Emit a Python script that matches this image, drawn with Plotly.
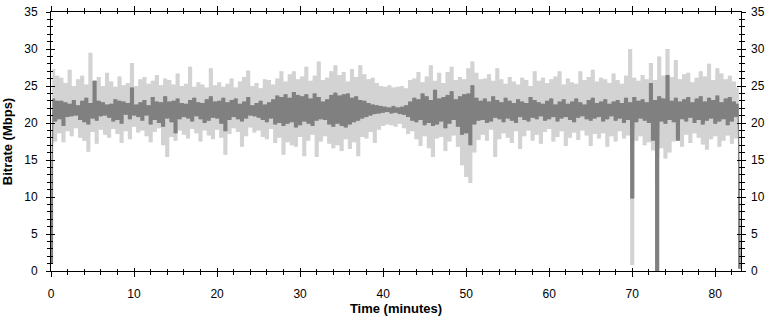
import plotly.graph_objects as go

# Sampling interval of the bitrate samples (minutes); samples alternate trough / peak
SAMPLE_MIN = 0.25

# Per-sample bitrate (Mbps) - light grey series (instantaneous bitrate)
light_mbps = [
    5.5, 27.3, 17.5, 26.4,  18.6, 26.1, 17.4, 25.4,  18.9, 27.2, 18.2, 25.0,  19.3, 25.9, 18.0, 26.4,
    17.6, 25.2, 16.1, 29.5,  18.8, 25.7, 17.2, 26.2,  19.1, 25.0, 18.4, 26.8,  18.0, 25.6, 19.2, 24.9,
    18.5, 26.3, 17.3, 25.1,  18.9, 25.4, 17.8, 28.1,  19.5, 25.0, 18.7, 25.9,  19.0, 26.2, 18.2, 25.3,
    17.4, 25.7, 18.8, 26.5,  19.3, 25.1, 17.0, 26.0,  15.4, 25.8, 18.1, 25.2,  17.6, 26.7, 19.0, 25.0,
    18.4, 25.3, 17.9, 27.6,  19.2, 24.9, 18.6, 25.5,  17.5, 25.2, 19.0, 24.8,  18.3, 27.4, 17.8, 25.1,
    19.1, 25.5, 18.0, 24.9,  15.7, 25.3, 18.5, 26.0,  19.3, 24.8, 18.8, 25.6,  16.8, 26.2, 18.2, 27.1,
    19.4, 25.0, 18.7, 25.4,  19.0, 24.7, 18.1, 25.9,  17.8, 25.8, 19.2, 25.2,  17.3, 26.0, 18.0, 27.0,
    15.7, 25.6, 17.4, 26.6,  17.0, 27.0, 16.8, 25.9,  18.1, 26.3, 15.5, 27.6,  17.6, 25.7, 18.4, 26.4,
    15.4, 28.3, 17.5, 25.8,  18.2, 26.1, 17.2, 27.0,  16.6, 27.8, 17.0, 26.5,  16.2, 26.9, 17.8, 25.6,
    16.5, 27.3, 17.4, 26.2,  15.5, 27.8, 18.1, 26.6,  17.9, 25.9, 18.8, 26.1,  17.3, 25.4, 19.1, 25.0,
    19.6, 24.9, 19.8, 25.1,  19.7, 24.8, 19.5, 24.9,  19.9, 25.0, 19.3, 24.7,  18.5, 25.8, 18.9, 26.0,
    17.8, 26.9, 16.9, 25.5,  18.2, 26.3, 16.6, 27.8,  15.4, 25.7, 17.9, 26.8,  18.1, 25.4, 16.2, 26.9,
    17.5, 27.6, 18.3, 25.8,  16.8, 26.2, 14.3, 25.9,  12.7, 27.4, 11.9, 28.3,  16.0, 26.8, 17.7, 25.9,
    18.4, 26.0, 17.6, 26.6,  19.1, 25.7, 15.4, 27.4,  17.8, 25.9, 18.6, 25.3,  18.0, 26.2, 17.3, 25.6,
    18.9, 25.2, 16.5, 26.1,  18.2, 25.8, 19.0, 25.0,  17.6, 27.0, 18.4, 25.7,  17.2, 26.1, 18.8, 25.4,
    19.2, 25.9, 17.5, 26.3,  18.1, 27.0, 18.9, 25.2,  16.9, 26.0, 18.0, 25.5,  18.7, 25.3, 17.7, 27.0,
    19.0, 25.8, 18.3, 26.2,  16.9, 27.2, 18.5, 25.6,  17.9, 26.1, 18.6, 25.9,  16.8, 25.4, 18.2, 26.7,
    17.5, 25.8, 18.9, 25.3,  17.9, 26.4, 18.3, 30.0,  0.8, 26.1, 17.6, 25.7,  18.2, 26.5, 17.0, 25.9,
    17.4, 28.1, 16.3, 25.8,  0.0, 29.0, 16.6, 26.4,  15.2, 30.0, 16.0, 26.2,  17.5, 28.5, 18.0, 25.9,
    16.8, 26.6, 18.4, 26.8,  17.3, 25.5, 18.6, 26.1,  18.0, 27.0, 17.1, 26.3,  16.4, 28.0, 17.8, 25.8,
    18.2, 27.4, 16.8, 26.7,  17.6, 25.9, 18.3, 26.4,  17.2, 25.6, 17.9, 24.8,
    2.2,
]

# Per-sample bitrate (Mbps) - dark grey series (smoothed bitrate)
dark_mbps = [
    1.0, 23.3, 20.2, 23.0,  20.5, 23.0, 19.6, 22.8,  20.8, 22.6, 20.9, 23.1,  21.0, 22.4, 20.4, 23.0,
    20.1, 23.4, 19.8, 22.7,  20.6, 25.7, 20.3, 23.0,  20.9, 22.8, 21.0, 22.5,  20.7, 22.6, 20.2, 23.2,
    20.4, 23.0, 19.9, 22.9,  21.1, 22.7, 20.5, 24.8,  21.0, 22.5, 20.8, 22.8,  20.3, 23.1, 21.0, 22.4,
    19.8, 23.5, 20.4, 22.9,  20.0, 22.8, 19.5, 23.6,  20.6, 22.9, 20.1, 23.0,  18.6, 23.3, 20.5, 22.7,
    20.8, 22.6, 20.6, 23.1,  20.2, 23.4, 20.9, 22.8,  20.5, 22.7, 20.0, 23.2,  20.3, 23.6, 20.7, 22.9,
    20.6, 23.0, 19.9, 23.4,  18.9, 22.8, 20.4, 23.1,  20.8, 23.3, 20.5, 22.6,  20.2, 22.9, 20.6, 23.5,
    21.0, 22.4, 20.9, 22.7,  20.7, 23.0, 20.4, 22.5,  20.1, 22.8, 20.6, 23.2,  19.8, 23.7, 20.0, 23.5,
    19.6, 23.9, 19.9, 23.4,  20.1, 24.2, 19.4, 23.8,  19.7, 23.6, 20.2, 23.9,  19.9, 23.3, 19.6, 24.0,
    20.3, 23.5, 20.5, 22.9,  20.4, 23.2, 19.8, 23.8,  19.5, 24.1, 19.9, 23.7,  19.6, 23.9, 19.4, 24.0,
    19.8, 23.4, 20.1, 23.6,  20.3, 23.1, 20.6, 23.0,  20.8, 22.7, 21.0, 22.5,  21.2, 22.4, 21.3, 22.3,
    21.4, 22.2, 21.5, 22.1,  21.3, 22.3, 21.4, 22.1,  21.2, 22.2, 21.1, 22.4,  20.8, 22.9, 20.3, 23.4,
    20.1, 23.2, 20.4, 24.0,  19.7, 23.6, 20.0, 23.1,  19.6, 24.5, 19.8, 23.3,  20.2, 23.5, 19.3, 23.8,
    19.9, 24.3, 20.4, 23.2,  19.5, 23.6, 18.4, 23.9,  18.6, 24.0, 17.0, 25.1,  19.8, 23.4, 20.3, 23.0,
    20.4, 23.3, 20.0, 22.9,  20.2, 23.6, 20.7, 23.1,  20.5, 22.8, 20.1, 23.4,  20.6, 23.0, 20.3, 22.7,
    20.0, 23.2, 20.8, 22.9,  20.4, 22.7, 20.2, 23.5,  20.7, 23.1, 20.5, 22.8,  20.9, 22.6, 20.3, 23.0,
    20.5, 23.3, 20.8, 22.5,  20.2, 22.9, 20.6, 23.2,  20.8, 22.6, 20.4, 22.9,  20.1, 23.3, 20.7, 22.8,
    20.9, 22.5, 20.5, 23.1,  20.3, 23.4, 20.6, 22.7,  20.8, 22.9, 20.2, 23.2,  20.5, 22.6, 20.9, 22.9,
    20.3, 23.1, 20.6, 22.7,  20.0, 23.4, 20.4, 22.8,  9.8, 23.5, 20.1, 23.0,  20.6, 23.2, 20.3, 22.8,
    20.0, 25.4, 17.6, 23.1,  0.0, 23.6, 20.2, 23.3,  19.9, 26.5, 20.4, 23.0,  20.1, 23.4, 17.6, 22.9,
    20.5, 23.2, 20.2, 23.5,  20.7, 22.8, 20.0, 23.3,  20.4, 23.6, 19.8, 22.9,  20.3, 23.4, 20.6, 23.1,
    19.9, 23.7, 20.2, 22.8,  20.5, 23.3, 19.7, 23.5,  20.2, 22.9, 20.8, 22.6,
    0.3,
]

time_light = [i * SAMPLE_MIN for i in range(len(light_mbps))]
time_dark = [i * SAMPLE_MIN for i in range(len(dark_mbps))]

x_ticks = [0, 10, 20, 30, 40, 50, 60, 70, 80]
y_ticks = [0, 5, 10, 15, 20, 25, 30, 35]

FONT = "Liberation Sans"
X_RANGE = [0, 83.1]
Y_RANGE = [0, 35]
LIGHT = "#d3d3d3"
DARK = "#808080"


def add_band(fig, t, v, color, xa, ya):
    # troughs (even samples) and peaks (odd samples) bound a stepped, filled band
    fig.add_trace(go.Scatter(x=t[0::2], y=v[0::2], mode="lines",
                             line=dict(width=0, color=color, shape="hvh"),
                             hoverinfo="skip", showlegend=False, xaxis=xa, yaxis=ya))
    fig.add_trace(go.Scatter(x=t[1::2], y=v[1::2], mode="lines",
                             line=dict(width=0, color=color, shape="hvh"),
                             fill="tonexty", fillcolor=color,
                             hoverinfo="skip", showlegend=False, xaxis=xa, yaxis=ya))
    # the raw sample trace itself
    fig.add_trace(go.Scatter(x=t, y=v, mode="lines", line=dict(width=1.2, color=color),
                             hoverinfo="skip", showlegend=False, xaxis=xa, yaxis=ya))


fig = go.Figure()
add_band(fig, time_light, light_mbps, LIGHT, "x", "y")
add_band(fig, time_dark, dark_mbps, DARK, "x2", "y2")

tickfont = dict(family=FONT, size=12, color="black")

fig.update_layout(
    width=772, height=320,
    margin=dict(l=51, r=31, t=12, b=49),
    paper_bgcolor="white", plot_bgcolor="white",
    font=dict(family=FONT, size=12, color="black"),
    xaxis=dict(
        range=X_RANGE, tickvals=x_ticks, ticks="outside", ticklen=5, tickcolor="black",
        showline=True, linecolor="black", linewidth=1, mirror="ticks", automargin=False,
        showgrid=False, zeroline=False, tickfont=tickfont, ticklabelstandoff=7,
        minor=dict(ticks="outside", dtick=2, tick0=0, ticklen=3, tickcolor="black", showgrid=False),
        title=dict(text="<b>Time (minutes)</b>", font=dict(family=FONT, size=13, color="black"), standoff=3),
    ),
    xaxis2=dict(
        range=X_RANGE, overlaying="x", side="bottom", tickvals=x_ticks, ticks="inside", ticklen=3,
        tickcolor="black", mirror="ticks", showticklabels=False, showline=False, automargin=False,
        showgrid=False, zeroline=False,
        minor=dict(ticks="inside", dtick=2, tick0=0, ticklen=2, tickcolor="black", showgrid=False),
    ),
    yaxis=dict(
        range=Y_RANGE, tickvals=y_ticks, ticks="outside", ticklen=4, tickcolor="black",
        showline=True, linecolor="black", linewidth=1, mirror="ticks", automargin=False,
        showgrid=False, zeroline=False, tickfont=tickfont, ticklabelstandoff=6,
        minor=dict(ticks="outside", dtick=1, tick0=0, ticklen=3, tickcolor="black", showgrid=False),
        title=dict(text="<b>Bitrate (Mbps)</b>", font=dict(family=FONT, size=13, color="black"), standoff=8),
    ),
    yaxis2=dict(
        range=Y_RANGE, overlaying="y", side="right", tickvals=y_ticks, ticks="inside", ticklen=4,
        tickcolor="black", mirror="ticks", showticklabels=True, tickfont=tickfont, showline=False,
        automargin=False, ticklabelstandoff=9,
        showgrid=False, zeroline=False,
        minor=dict(ticks="inside", dtick=1, tick0=0, ticklen=2, tickcolor="black", showgrid=False),
    ),
)

fig.write_html(
    "out.html",
    config={"displayModeBar": False},
    post_script="document.body.style.margin='0';document.body.style.overflow='hidden';",
)
